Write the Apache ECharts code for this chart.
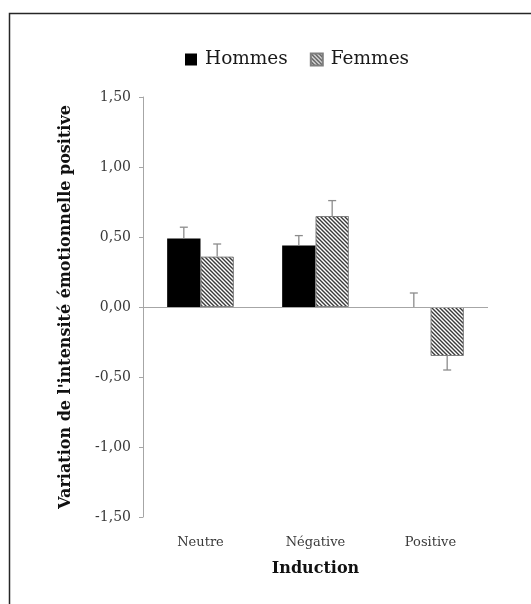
<!DOCTYPE html>
<html>
<head>
<meta charset="utf-8">
<script src="https://cdn.jsdelivr.net/npm/echarts@6/dist/echarts.min.js"></script>
<style>
  html, body { margin: 0; padding: 0; background: #fff; }
  #chart { width: 531px; height: 604px; }
</style>
</head>
<body>
<div id="chart"></div>
<script>
// Induction conditions and mean change in positive emotional intensity
const categories = ['Neutre', 'Négative', 'Positive'];
const hommes = [0.49, 0.44, 0.00];
const femmes = [0.36, 0.65, -0.35];
// Standard errors (drawn one-sided, away from zero)
const hommesErr = [0.08, 0.07, 0.10];
const femmesErr = [0.09, 0.11, 0.10];
const yTicks = [-1.5, -1.0, -0.5, 0, 0.5, 1.0, 1.5];

const FONT = 'DejaVu Serif';

// Diagonal hatch fill for the "Femmes" series
function hatch() {
  const c = document.createElement('canvas');
  const s = 4;
  c.width = s; c.height = s;
  const g = c.getContext('2d');
  g.fillStyle = '#ffffff';
  g.fillRect(0, 0, s, s);
  g.strokeStyle = '#3a3a3a';
  g.lineWidth = 1.4;
  g.beginPath();
  g.moveTo(-1, -1); g.lineTo(s + 1, s + 1);
  g.moveTo(-1, s - 1); g.lineTo(1, s + 1);
  g.moveTo(s - 1, -1); g.lineTo(s + 1, 1);
  g.stroke();
  return c;
}
const hatchFill = { image: hatch(), repeat: 'repeat' };

const GAP = 0.42;
function errorSeries(name, values, errs, side) {
  return {
    type: 'custom',
    name: name + ' err',
    z: 5,
    silent: true,
    renderItem: function (params, api) {
      const i = api.value(0);
      const v = api.value(1);
      const e = api.value(2);
      const band = api.size([1, 0])[0];
      const barW = band * (1 - GAP) / 2;
      const base = api.coord([i, v]);
      const x = base[0] + side * barW / 2;
      const end = v < 0 ? v - e : v + e;
      const y0 = base[1];
      const y1 = api.coord([i, end])[1];
      const cap = 4;
      const style = { stroke: '#8c8c8c', lineWidth: 1.3, fill: null };
      return {
        type: 'group',
        children: [
          { type: 'line', shape: { x1: x, y1: y0, x2: x, y2: y1 }, style: style },
          { type: 'line', shape: { x1: x - cap, y1: y1, x2: x + cap, y2: y1 }, style: style }
        ]
      };
    },
    encode: { x: 0, y: 1 },
    data: values.map((v, i) => [i, v, errs[i]])
  };
}

const chart = echarts.init(document.getElementById('chart'), null, { renderer: 'canvas' });
chart.setOption({
  animation: false,
  backgroundColor: '#ffffff',
  graphic: [{
    type: 'rect',
    shape: { x: 9.5, y: 13.5, width: 700, height: 800 },
    style: { fill: null, stroke: '#262626', lineWidth: 1.5 },
    silent: true
  }],
  legend: {
    top: 45,
    left: 180,
    icon: 'rect',
    itemWidth: 12,
    itemHeight: 12,
    itemGap: 22,
    data: ['Hommes', 'Femmes'],
    textStyle: { fontFamily: FONT, fontSize: 18.5, color: '#1a1a1a', padding: [0, 0, 0, 3] }
  },
  grid: { left: 143, right: 43, top: 97, bottom: 87, containLabel: false },
  xAxis: {
    type: 'category',
    data: categories,
    position: 'bottom',
    axisLine: { show: false, onZero: false },
    axisTick: { show: false },
    axisLabel: { fontFamily: FONT, fontSize: 13, color: '#3a3a3a', margin: 19 },
    name: 'Induction',
    nameLocation: 'middle',
    nameGap: 44,
    nameTextStyle: { fontFamily: FONT, fontSize: 16, fontWeight: 'bold', color: '#111' }
  },
  yAxis: {
    type: 'value',
    min: -1.5,
    max: 1.5,
    interval: 0.5,
    axisLine: { show: true, lineStyle: { color: '#a6a6a6', width: 1 } },
    axisTick: { show: true, length: 4, lineStyle: { color: '#a6a6a6' } },
    splitLine: { show: false },
    axisLabel: {
      fontFamily: FONT, fontSize: 14, color: '#3a3a3a', margin: 12,
      formatter: v => (yTicks.some(t => Math.abs(t - v) < 1e-9) ? v.toFixed(2).replace('.', ',') : '')
    },
    name: "Variation de l'intensité émotionnelle positive",
    nameLocation: 'middle',
    nameGap: 69,
    nameRotate: 90,
    nameTextStyle: { fontFamily: FONT, fontSize: 16, fontWeight: 'bold', color: '#111' }
  },
  series: [
    {
      name: 'Hommes',
      type: 'bar',
      data: hommes,
      barGap: '0%',
      barCategoryGap: (GAP * 100) + '%',
      itemStyle: { color: '#000000', borderWidth: 0 },
      markLine: {
        silent: true,
        symbol: 'none',
        label: { show: false },
        lineStyle: { color: '#a6a6a6', width: 1, type: 'solid' },
        data: [{ yAxis: 0 }]
      }
    },
    {
      name: 'Femmes',
      type: 'bar',
      data: femmes,
      barGap: '0%',
      barCategoryGap: (GAP * 100) + '%',
      itemStyle: { color: hatchFill, borderColor: '#7f7f7f', borderWidth: 1 }
    },
    errorSeries('Hommes', hommes, hommesErr, -1),
    errorSeries('Femmes', femmes, femmesErr, 1)
  ]
});
</script>
</body>
</html>
